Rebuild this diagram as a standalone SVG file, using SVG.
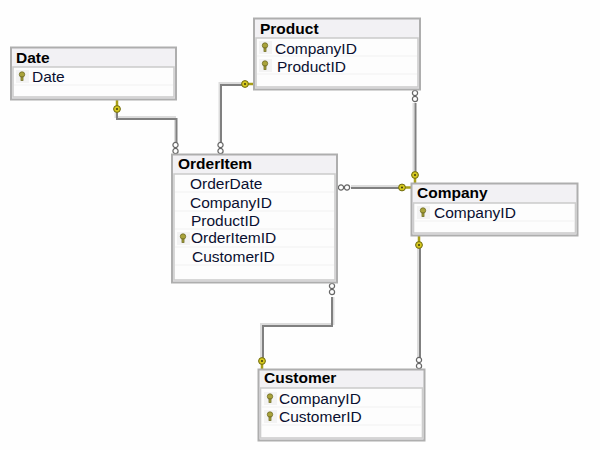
<svg xmlns="http://www.w3.org/2000/svg" width="600" height="450" viewBox="0 0 600 450">
<defs>
<style>
.outer{fill:#f2f1f4;stroke:#aeaeae;stroke-width:2}
.inner{fill:#fdfdfd;stroke:#cdcdcd;stroke-width:1.6}
.sep{stroke:#f1f1f1;stroke-width:1}
.gutter{fill:#f3f3f3}
.title{font:bold 15.5px "Liberation Sans",Arial,sans-serif;fill:#000}
.row{font:15.5px "Liberation Sans",Arial,sans-serif;fill:#0a1030}
.wireA{fill:none;stroke:#808080;stroke-width:2}
.wireB{fill:none;stroke:#dcdcdc;stroke-width:2}
.ring{fill:#fff;stroke:#666;stroke-width:1.2}
.keyhead{fill:#d6c81e;stroke:#6e6a10;stroke-width:1}
.keystem{fill:none;stroke:#a89f18;stroke-width:2.5}
.keydot{fill:#3a3a10}
.pk{fill:#a9a33a;stroke:#6f6b25;stroke-width:.8}
</style>
<g id="pk"><rect class="gutter" x="-6" y="-6" width="13" height="13"/><circle class="pk" cx="0" cy="-1.5" r="2.7"/><rect class="pk" x="-1" y="1" width="2" height="3.5"/></g>
<g id="keyU"><path class="keystem" d="M0 -9V0"/><circle class="keyhead" cx="0" cy="0" r="3.4"/><circle class="keydot" cx="0" cy="0" r="1"/></g>
<g id="keyD"><path class="keystem" d="M0 0V9"/><circle class="keyhead" cx="0" cy="0" r="3.4"/><circle class="keydot" cx="0" cy="0" r="1"/></g>
<g id="keyH"><path class="keystem" d="M0 0H9"/><circle class="keyhead" cx="0" cy="0" r="3.4"/><circle class="keydot" cx="0" cy="0" r="1"/></g>
<g id="rings"><circle class="ring" cx="0" cy="0" r="2.6"/><circle class="ring" cx="0" cy="6" r="2.6"/></g>
<g id="ringsH"><circle class="ring" cx="0" cy="0" r="2.6"/><circle class="ring" cx="6" cy="0" r="2.6"/></g>
</defs>
<rect width="600" height="450" fill="#fefefe"/>
<g id="connectors">
<path class="wireB" d="M115.500 110V117H175V143"/><path class="wireA" d="M117 110V119H176.500V143"/>
<path class="wireB" d="M244 83H219.500V143"/><path class="wireA" d="M244 85H221V143"/>
<path class="wireB" d="M413.500 103V172"/><path class="wireA" d="M415.500 103V172"/>
<path class="wireB" d="M351 186H400"/><path class="wireA" d="M351 188H400"/>
<path class="wireB" d="M333.500 297V324H261V358"/><path class="wireA" d="M332 297V326H263V358"/>
<path class="wireB" d="M418 248V358"/><path class="wireA" d="M420 248V358"/>
<use href="#keyU" x="117" y="109"/><use href="#rings" x="175.500" y="145"/>
<use href="#keyH" x="245" y="84"/><use href="#rings" x="220.500" y="145"/>
<use href="#rings" x="415" y="93"/><use href="#keyD" x="415" y="175"/>
<use href="#ringsH" x="341" y="187.500"/><use href="#keyH" x="402" y="187.500"/>
<use href="#rings" x="332" y="286"/><use href="#keyD" x="262" y="361"/>
<use href="#keyU" x="419" y="245"/><use href="#rings" x="419" y="360"/>
</g>
<g id="node-date">
<rect class="outer" x="11" y="47.500" width="165" height="52"/><rect class="inner" x="13" y="67" width="161" height="30"/>
<line class="sep" x1="14" y1="85" x2="173" y2="85"/>
<use href="#pk" x="22" y="76"/>
<text class="title" x="16" y="63">Date</text><text class="row" x="32" y="82">Date</text>
</g>
<g id="node-product">
<rect class="outer" x="254" y="18.500" width="166" height="71"/><rect class="inner" x="256" y="38" width="162" height="49"/>
<line class="sep" x1="257" y1="56" x2="417" y2="56"/><line class="sep" x1="257" y1="74" x2="417" y2="74"/>
<use href="#pk" x="265" y="47"/><use href="#pk" x="265" y="65"/>
<text class="title" x="260" y="33.500">Product</text><text class="row" x="275" y="54">CompanyID</text><text class="row" x="277" y="72">ProductID</text>
</g>
<g id="node-orderitem">
<rect class="outer" x="172" y="154.500" width="165" height="128"/><rect class="inner" x="174" y="174" width="161" height="106"/>
<line class="sep" x1="175" y1="192" x2="334" y2="192"/><line class="sep" x1="175" y1="211" x2="334" y2="211"/><line class="sep" x1="175" y1="229" x2="334" y2="229"/><line class="sep" x1="175" y1="247" x2="334" y2="247"/><line class="sep" x1="175" y1="265" x2="334" y2="265"/>
<use href="#pk" x="183" y="238"/>
<text class="title" x="178" y="168.500">OrderItem</text>
<text class="row" x="190" y="189">OrderDate</text><text class="row" x="190" y="208">CompanyID</text><text class="row" x="191" y="226">ProductID</text><text class="row" x="191" y="243">OrderItemID</text><text class="row" x="192" y="261.500">CustomerID</text>
</g>
<g id="node-company">
<rect class="outer" x="411.500" y="183.500" width="166" height="52"/><rect class="inner" x="413.500" y="203" width="162" height="30"/>
<line class="sep" x1="415" y1="221" x2="574" y2="221"/>
<use href="#pk" x="423" y="212"/>
<text class="title" x="417" y="197.500">Company</text><text class="row" x="434" y="217.500">CompanyID</text>
</g>
<g id="node-customer">
<rect class="outer" x="258.500" y="369.500" width="166" height="71"/><rect class="inner" x="260.500" y="388" width="162" height="50"/>
<line class="sep" x1="262" y1="407" x2="421" y2="407"/><line class="sep" x1="262" y1="425" x2="421" y2="425"/>
<use href="#pk" x="270" y="398"/><use href="#pk" x="270" y="416"/>
<text class="title" x="264" y="382.500">Customer</text><text class="row" x="279" y="403.500">CompanyID</text><text class="row" x="279" y="421.500">CustomerID</text>
</g>
</svg>
